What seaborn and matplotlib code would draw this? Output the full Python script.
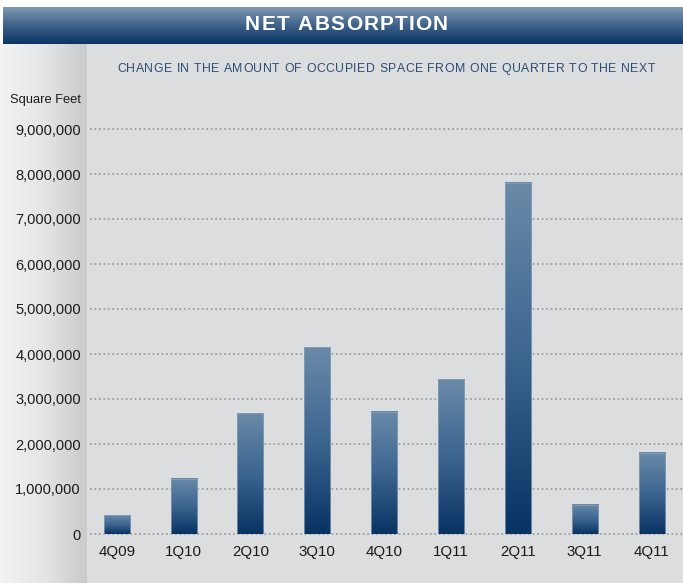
import numpy as np
import matplotlib
matplotlib.use("Agg")
import matplotlib.pyplot as plt
import seaborn as sns
import pandas as pd
from matplotlib.colors import LinearSegmentedColormap
from matplotlib.patches import Rectangle

# ---- data ----
quarters = ["4Q09", "1Q10", "2Q10", "3Q10", "4Q10", "1Q11", "2Q11", "3Q11", "4Q11"]
absorption = [420000, 1230000, 2680000, 4150000, 2720000, 3440000, 7810000, 650000, 1810000]
ytick_values = [0, 1000000, 2000000, 3000000, 4000000, 5000000, 6000000, 7000000, 8000000, 9000000]
ytick_labels = ["0", "1,000,000", "2,000,000", "3,000,000", "4,000,000", "5,000,000",
                "6,000,000", "7,000,000", "8,000,000", "9,000,000"]
title = "NET ABSORPTION"
subtitle = "CHANGE IN THE AMOUNT OF OCCUPIED SPACE FROM ONE QUARTER TO THE NEXT"
unit_label = "Square Feet"

sns.set_theme(style="white")
FONT = ["Liberation Sans", "DejaVu Sans"]
plt.rcParams["font.family"] = FONT

W, H = 683, 583
fig = plt.figure(figsize=(W / 100, H / 100), dpi=100)

# ---- background ----
bg = fig.add_axes([0, 0, 1, 1])
bg.set_xlim(0, W)
bg.set_ylim(H, 0)
bg.axis("off")
bg.add_patch(Rectangle((0, 0), W, H, color="white", zorder=0))
bg.add_patch(Rectangle((0, 44), W, H - 44, color="#dcdddf", zorder=0))
strip = np.linspace(0, 1, 200).reshape(1, -1)
cmap_strip = LinearSegmentedColormap.from_list("s", ["#f3f3f4", "#e4e5e6", "#c9cacc"])
bg.imshow(strip, extent=(0, 87, H, 44), cmap=cmap_strip, aspect="auto", zorder=1)
hgrad = np.linspace(0, 1, 200).reshape(-1, 1)
cmap_head = LinearSegmentedColormap.from_list("h", ["#8299b3", "#3e6289", "#0a3466"])
bg.imshow(hgrad, extent=(3, W, 44, 7), cmap=cmap_head, aspect="auto", zorder=1)
bg.set_xlim(0, W)
bg.set_ylim(H, 0)

renderer = fig.canvas.get_renderer()


def spaced_text(ax, x_left, x_right, y, s, **kw):
    objs, widths = [], []
    for ch in s:
        t = ax.text(0, y, ch, va="center", ha="left", **kw)
        objs.append(t)
        widths.append(None if ch == " " else t.get_window_extent(renderer=renderer).width)
    sp = ax.text(0, y, "n", **kw)
    spw = sp.get_window_extent(renderer=renderer).width * 0.5
    sp.remove()
    widths = [w if w is not None else spw for w in widths]
    extra = (x_right - x_left - sum(widths)) / (len(s) - 1)
    x = x_left
    for t, w in zip(objs, widths):
        t.set_x(x)
        x += w + extra


spaced_text(bg, 245, 448, 25, title, color="white", fontsize=15, fontweight="bold", zorder=3)
spaced_text(bg, 117, 655, 69, subtitle, color="#2c4d74", fontsize=8.8, zorder=3)
bg.text(81, 100, unit_label, ha="right", va="center", fontsize=9.3, color="#1a1a1a", zorder=3)

# ---- main chart ----
ax = fig.add_axes([90 / W, (H - 534) / H, 593 / W, 405 / H])
ax.set_facecolor("none")
df = pd.DataFrame({"quarter": quarters, "absorption": absorption})
sns.barplot(data=df, x="quarter", y="absorption", ax=ax, width=0.39,
            color="#2b5580", saturation=1, zorder=3)

ax.set_ylim(0, 9000000)
ax.set_xlim(-0.4, 8.47)
ax.set_yticks(ytick_values)
ax.set_yticklabels(ytick_labels)
ax.yaxis.grid(True, linestyle=(0, (0.9, 1.4)), color="#a2a3a5", linewidth=1.4, zorder=1)
ax.xaxis.grid(False)
for gl in ax.get_ygridlines():
    gl.set_clip_on(False)
for s in ax.spines.values():
    s.set_visible(False)
ax.tick_params(axis="y", length=0, pad=6.5, labelsize=10.5, labelcolor="#1a1a1a")
ax.tick_params(axis="x", length=0, pad=8, labelsize=10.8, labelcolor="#1a1a1a")
ax.set_xlabel("")
ax.set_ylabel("")

# gradient fill for bars
cmap_bar = LinearSegmentedColormap.from_list("b", ["#6a8aa8", "#3c6590", "#083262"])
bgrad = np.linspace(0, 1, 256).reshape(-1, 1)
for p in ax.patches:
    x0, y0 = p.get_x(), p.get_y()
    w, h = p.get_width(), p.get_height()
    ax.imshow(bgrad, extent=(x0, x0 + w, y0, y0 + h), origin="upper",
              cmap=cmap_bar, aspect="auto", zorder=3)
    p.set_facecolor("none")
    p.set_edgecolor("#8ea4ba")
    p.set_linewidth(0.5)
    p.set_zorder(4)
ax.set_ylim(0, 9000000)
ax.set_xlim(-0.4, 8.47)

fig.savefig("out.png", dpi=100)
